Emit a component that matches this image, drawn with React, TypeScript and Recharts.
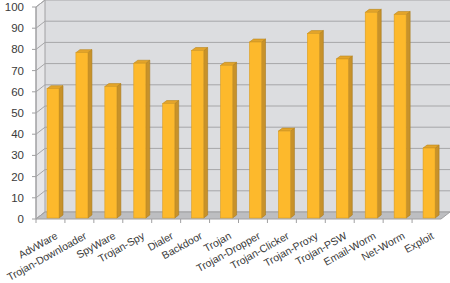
import { BarChart, Bar, XAxis, YAxis, ReferenceArea } from "recharts";

const CATEGORIES = [
  "AdvWare",
  "Trojan-Downloader",
  "SpyWare",
  "Trojan-Spy",
  "Dialer",
  "Backdoor",
  "Trojan",
  "Trojan-Dropper",
  "Trojan-Clicker",
  "Trojan-Proxy",
  "Trojan-PSW",
  "Email-Worm",
  "Net-Worm",
  "Exploit",
];
const VALUES = [61, 78, 62, 73, 54, 79, 72, 83, 41, 87, 75, 97, 96, 33];
const Y_TICKS = [0, 10, 20, 30, 40, 50, 60, 70, 80, 90, 100];

const data = CATEGORIES.map((name, i) => ({ name, value: VALUES[i] }));

const FONT = "'Liberation Sans Narrow', 'Arial Narrow', 'Liberation Sans', Arial, sans-serif";
const DX = 9;
const DY = 7;
const GRID = "#a6a6a8";

// back wall, side wall, floor and gridlines of the 3d box
function Walls({ x, y, width, height }: any) {
  const left = x;
  const right = x + width;
  const top = y;
  const bottom = y + height;
  return (
    <g>
      <rect x={left + DX} y={top - DY} width={width} height={height} fill="#dcdde0" />
      <polygon
        points={`${left},${top} ${left + DX},${top - DY} ${left + DX},${bottom - DY} ${left},${bottom}`}
        fill="#e7e7e9"
        stroke="#a0a0a2"
        strokeWidth={1}
      />
      {Y_TICKS.map((t) => {
        const yy = bottom - (height * t) / 100;
        return (
          <g key={t}>
            <line x1={left} y1={yy} x2={left + DX} y2={yy - DY} stroke={GRID} />
            <line x1={left + DX} y1={yy - DY} x2={right + DX} y2={yy - DY} stroke={GRID} />
          </g>
        );
      })}
      <polygon
        points={`${left},${bottom} ${left + DX},${bottom - DY} ${right + DX},${bottom - DY} ${right},${bottom}`}
        fill="#bdbec1"
        stroke="#a0a0a2"
        strokeWidth={1}
      />
    </g>
  );
}

function Bar3D({ x, y, width, height }: any) {
  if (height <= 0) return null;
  const fx = x + 3;
  const fy = y - 1;
  const d = 4;
  const e = 3;
  return (
    <g>
      <polygon
        points={`${fx + width},${fy} ${fx + width + d},${fy - e} ${fx + width + d},${fy + height - e} ${fx + width},${fy + height}`}
        fill="#c8922a"
        stroke="#a87a20"
        strokeWidth={0.6}
      />
      <polygon
        points={`${fx},${fy} ${fx + d},${fy - e} ${fx + width + d},${fy - e} ${fx + width},${fy}`}
        fill="#e3a42a"
        stroke="#b8861f"
        strokeWidth={0.6}
      />
      <rect x={fx} y={fy} width={width} height={height} fill="#fdb92c" stroke="#d99d22" strokeWidth={0.6} />
    </g>
  );
}

function XTick({ x, y, payload }: any) {
  const off = payload?.offset ?? 14.5;
  return (
    <g transform={`translate(${x},${y})`}>
      <line x1={-off} y1={0} x2={-off} y2={4} stroke="#a0a0a2" />
      <text
        x={8}
        y={19}
        textAnchor="end"
        transform="rotate(-29 8 19)"
        fontSize={10.5}
        fontFamily={FONT}
        fill="#3a3a3a"
      >
        {payload.value}
      </text>
    </g>
  );
}

export default function App() {
  return (
    <div style={{ position: "absolute", left: 0, top: 0, width: 450, height: 283, background: "#fff" }}>
      <BarChart width={450} height={283} data={data} margin={{ top: 7, right: 9, left: 0, bottom: 0 }} barSize={12}>
        <XAxis
          dataKey="name"
          interval={0}
          axisLine={false}
          tickLine={false}
          tickSize={0}
          tickMargin={0}
          height={64}
          tick={<XTick />}
        />
        <YAxis
          domain={[0, 100]}
          ticks={Y_TICKS}
          width={36}
          axisLine={{ stroke: "#a0a0a2" }}
          tickLine={{ stroke: "#a0a0a2" }}
          tickSize={4}
          tickMargin={8}
          tick={{ fontSize: 11.5, fontFamily: FONT, fill: "#3a3a3a" }}
        />
        <ReferenceArea y1={0} y2={100} ifOverflow="visible" shape={(p: any) => <Walls {...p} />} />
        <Bar dataKey="value" shape={(p: any) => <Bar3D {...p} />} isAnimationActive={false} />
      </BarChart>
    </div>
  );
}
